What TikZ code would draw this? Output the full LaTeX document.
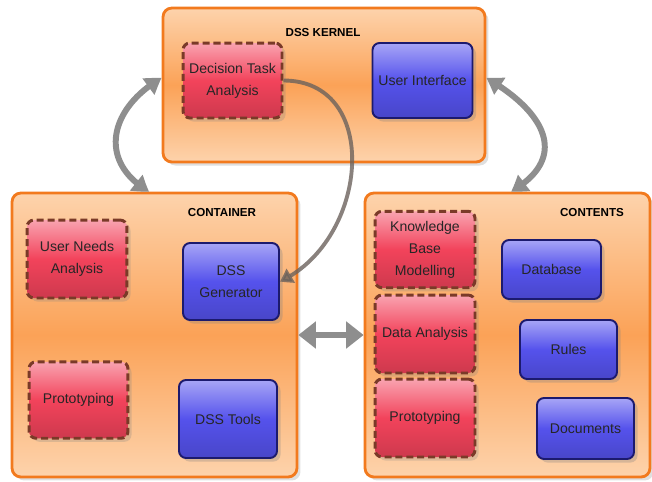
\documentclass[tikz,border=0pt]{standalone}
\usepackage{fontspec}
\setsansfont{Liberation Sans}
\usepackage{tikz}
\usetikzlibrary{arrows.meta}
\usetikzlibrary{bending}
\usetikzlibrary{shadows}

\definecolor{orline}{HTML}{F27A1E}
\definecolor{orlight}{HTML}{FDD3AC}
\definecolor{ormid}{HTML}{FBA257}
\definecolor{redline}{HTML}{7A3A28}
\definecolor{redlight}{HTML}{F9A3B0}
\definecolor{redmid}{HTML}{F2435B}
\definecolor{blueline}{HTML}{1C1A6E}
\definecolor{bluelight}{HTML}{A7A5F6}
\definecolor{bluemid}{HTML}{5552EC}
\definecolor{linkgray}{HTML}{8E8E8E}
\definecolor{flowgray}{HTML}{6B625C}

\begin{document}
\begin{tikzpicture}[x=0.02cm, y=-0.02cm, font=\sffamily,
  box/.style={draw=orline, line width=1.6pt, rounded corners=5pt,
    top color=orlight, bottom color=orlight, middle color=ormid,
    drop shadow={shadow xshift=2pt, shadow yshift=-2pt, opacity=0.25}},
  task/.style={draw=redline, line width=1.7pt, dash pattern=on 4pt off 2.2pt,
    rounded corners=4pt, top color=redlight, bottom color=redmid!85!black, middle color=redmid,
    minimum width=1.98cm, minimum height=1.53cm, align=center, text=black!85,
    font=\sffamily\fontsize{8}{12.5}\selectfont,
    drop shadow={shadow xshift=2pt, shadow yshift=-2pt, opacity=0.25}},
  item/.style={draw=blueline, line width=1.1pt, rounded corners=4pt,
    top color=bluelight, bottom color=bluemid!85!black, middle color=bluemid,
    minimum width=1.94cm, align=center, text=black!85,
    font=\sffamily\fontsize{8}{12.5}\selectfont,
    drop shadow={shadow xshift=2pt, shadow yshift=-2pt, opacity=0.3}},
  title/.style={font=\sffamily\bfseries\fontsize{6.6}{8}\selectfont, text=black},
  link/.style={linkgray, line width=3.4pt, {Triangle[length=9pt, width=11pt, bend]}-{Triangle[length=9pt, width=11pt, bend]}},
  flow/.style={flowgray, opacity=0.8, line width=2.2pt, -{Triangle[length=7pt, width=9pt, bend]}}]
\useasboundingbox (0,0) rectangle (652,481);

% outer boxes
\node[box, minimum width=6.44cm, minimum height=3.08cm] (kernel) at (324,85) {};
\node[box, minimum width=5.70cm, minimum height=5.68cm] (container) at (154.5,335) {};
\node[box, minimum width=5.70cm, minimum height=5.68cm] (contents) at (507.5,335) {};

\node[title] (kernelt) at (323,33) {DSS KERNEL};
\node[title] (containert) at (222,212) {CONTAINER};
\node[title] (contentst) at (592,212) {CONTENTS};

% kernel
\node[task, minimum height=1.50cm] (dta) at (232.5,80.5) {Decision Task\\Analysis};
\node[item, minimum width=1.98cm, minimum height=1.50cm] (ui) at (422.5,80.5) {User Interface};

% container
\node[task, minimum width=2.0cm, minimum height=1.56cm] (una) at (77,259) {User Needs\\Analysis};
\node[item, minimum width=1.92cm, minimum height=1.54cm] (gen) at (231,281.5) {DSS\\Generator};
\node[task] (protoA) at (78.5,400) {Prototyping};
\node[item, minimum width=1.96cm, minimum height=1.56cm] (tools) at (228,419) {DSS Tools};

% contents
\node[task, minimum width=2.0cm] (kbm) at (425,249.5) {Knowledge\\Base\\Modelling};
\node[task, minimum width=2.0cm, minimum height=1.56cm] (data) at (425,334) {Data Analysis};
\node[task, minimum width=2.0cm, minimum height=1.56cm] (protoB) at (425,418) {Prototyping};
\node[item, minimum width=1.98cm, minimum height=1.18cm] (db) at (551.5,269.5) {Database};
\node[item, minimum height=1.18cm] (rules) at (568.5,349.5) {Rules};
\node[item, minimum height=1.22cm] (docs) at (585.5,428.5) {Documents};

% links
\draw[link] ([yshift=4pt]kernel.west) to[out=210, in=150, looseness=1.35] ([xshift=-3pt]container.north);
\draw[link] ([yshift=4pt]kernel.east) to[out=-30, in=30, looseness=1.5] ([xshift=2pt]contents.north);
\draw[link, {Triangle[length=10pt, width=15pt]}-{Triangle[length=10pt, width=15pt]}, line width=3.8pt] (container.east) -- (contents.west);
\draw[flow] (dta.east) to[out=0, in=25, looseness=1.25] (gen.east);
\end{tikzpicture}
\end{document}
